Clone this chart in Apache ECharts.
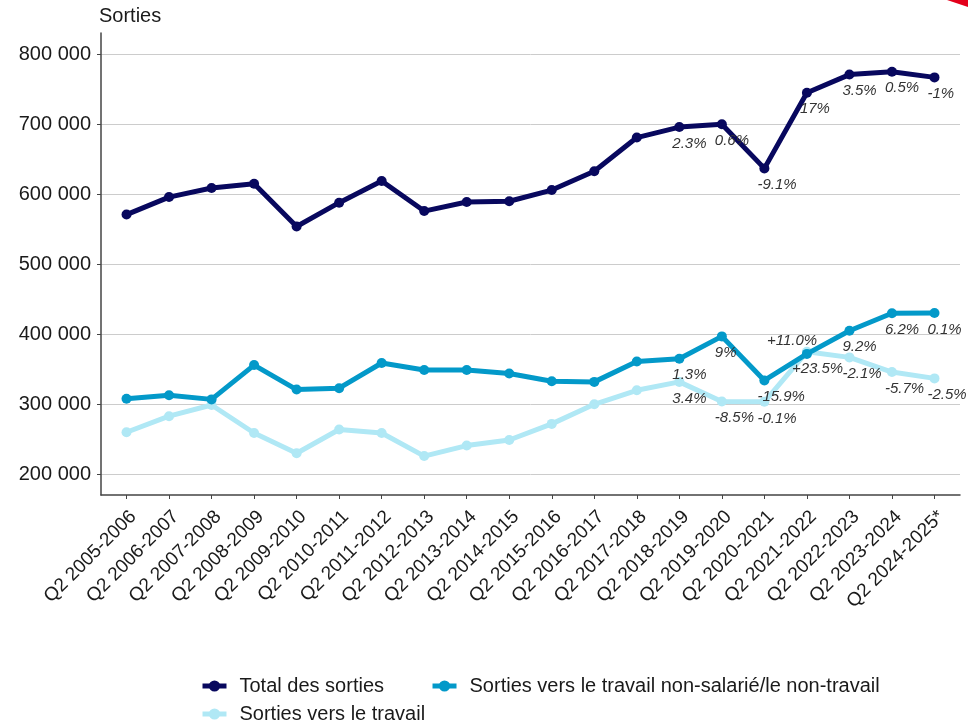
<!DOCTYPE html>
<html>
<head>
<meta charset="utf-8">
<script src="https://cdn.jsdelivr.net/npm/echarts@6/dist/echarts.min.js"></script>
<style>
html,body{margin:0;padding:0;background:#ffffff;}
#chart{width:968px;height:726px;}
</style>
</head>
<body>
<div id="chart"></div>
<script>
// ---- Data ----
const categories = ['Q2 2005-2006','Q2 2006-2007','Q2 2007-2008','Q2 2008-2009','Q2 2009-2010','Q2 2010-2011','Q2 2011-2012','Q2 2012-2013','Q2 2013-2014','Q2 2014-2015','Q2 2015-2016','Q2 2016-2017','Q2 2017-2018','Q2 2018-2019','Q2 2019-2020','Q2 2020-2021','Q2 2021-2022','Q2 2022-2023','Q2 2023-2024','Q2 2024-2025*'];
const totalSorties = [571000,596000,609000,615000,554000,588000,619000,576000,589000,590000,606000,633000,681000,696000,700000,637000,745000,771000,775000,767000];
const sortiesNonSalarie = [308000,313000,307000,356000,321000,323000,359000,349000,349000,344000,333000,332000,361000,365000,397000,334000,372000,405000,430000,430500];
const sortiesTravail = [260000,283000,299000,259000,230000,264000,259000,226000,241000,249000,272000,300000,320000,332000,304000,303500,375000,367000,346000,337000];
const totalPct = [null,null,null,null,null,null,null,null,null,null,null,null,null,'2.3%','0.6%','-9.1%','17%','3.5%','0.5%','-1%'];
const nonSalariePct = [null,null,null,null,null,null,null,null,null,null,null,null,null,'1.3%','9%','-15.9%','+11.0%','9.2%','6.2%','0.1%'];
const travailPct = [null,null,null,null,null,null,null,null,null,null,null,null,null,'3.4%','-8.5%','-0.1%','+23.5%','-2.1%','-5.7%','-2.5%'];
const yTicks = [200000,300000,400000,500000,600000,700000,800000];
const seriesNames = ['Total des sorties','Sorties vers le travail non-salarié/le non-travail','Sorties vers le travail'];

// ---- Styling ----
const FONT = '"Liberation Sans", Arial, sans-serif';
const COLORS = { total:'#08085e', nonsal:'#0399c9', travail:'#b0e8f5' };
const labelNudge = { 'nonsal-16':[-40,-30], 'travail-16':[-15,1] };
const xIdx = categories.map((_, i) => i);

function fmtThousands(v){ return String(v).replace(/\B(?=(\d{3})+(?!\d))/g, ' '); }

function buildData(values, pct, key){
  return values.map((v, i) => {
    const item = { value:[i, v] };
    if (pct[i]) {
      item.label = { show:true, formatter: pct[i] };
      const n = labelNudge[key + '-' + i];
      if (n) item.label.offset = n;
    }
    return item;
  });
}

function lineSeries(name, values, pct, key, color, z){
  return {
    name: name,
    type: 'line',
    z: z,
    data: buildData(values, pct, key),
    symbol: 'circle',
    symbolSize: 10,
    lineStyle: { color: color, width: 5 },
    itemStyle: { color: color },
    emphasis: { disabled: true },
    animation: false,
    label: {
      show: false,
      position: 'bottom',
      distance: 4,
      align: 'left',
      offset: [-7, 0],
      fontFamily: FONT,
      fontStyle: 'italic',
      fontSize: 15,
      color: '#333333'
    }
  };
}

const chart = echarts.init(document.getElementById('chart'), null, { renderer:'canvas' });

const legendCommon = {
  left: 200,
  itemWidth: 24,
  itemHeight: 14,
  padding: 0,
  selectedMode: false,
  lineStyle: { width: 5 },
  textStyle: { fontFamily: FONT, fontSize: 20, color: '#1a1a1a', padding: [0,0,0,8] }
};

const option = {
  backgroundColor: '#ffffff',
  animation: false,
  title: {
    text: 'Sorties',
    left: 99,
    top: 6,
    padding: 0,
    textStyle: { fontFamily: FONT, fontSize: 20, fontWeight: 'normal', color: '#1a1a1a' }
  },
  grid: { left: 101, right: 8, top: 33, bottom: 231, containLabel: false },
  xAxis: {
    type: 'value',
    min: -0.6,
    max: categories.length - 1 + 0.6,
    axisLine: { show: true, onZero: false, lineStyle: { color: '#444', width: 1.5 } },
    axisTick: { show: true, length: 4, customValues: xIdx, lineStyle: { color: '#444', width: 1 } },
    axisLabel: {
      customValues: xIdx,
      formatter: v => categories[Math.round(v)] || '',
      rotate: 45,
      margin: 12,
      verticalAlign: 'top',
      fontFamily: FONT,
      fontSize: 19,
      color: '#1a1a1a'
    },
    splitLine: { show: false }
  },
  yAxis: {
    type: 'value',
    min: 170400,
    max: 830400,
    axisLine: { show: true, onZero: false, lineStyle: { color: '#444', width: 1.5 } },
    axisTick: { show: true, length: 4, customValues: yTicks, lineStyle: { color: '#444', width: 1 } },
    axisLabel: {
      customValues: yTicks,
      formatter: v => fmtThousands(v),
      margin: 10,
      fontFamily: FONT,
      fontSize: 20,
      color: '#1a1a1a'
    },
    splitLine: { show: true, customValues: yTicks, lineStyle: { color: '#cccccc', width: 1 } }
  },
  legend: [
    Object.assign({}, legendCommon, { data: [seriesNames[0], seriesNames[1]], top: 676, itemGap: 46 }),
    Object.assign({}, legendCommon, { data: [seriesNames[2]], top: 704 })
  ],
  series: [
    lineSeries(seriesNames[2], sortiesTravail, travailPct, 'travail', COLORS.travail, 2),
    lineSeries(seriesNames[1], sortiesNonSalarie, nonSalariePct, 'nonsal', COLORS.nonsal, 3),
    lineSeries(seriesNames[0], totalSorties, totalPct, 'total', COLORS.total, 4)
  ],
  graphic: [
    { type: 'polygon', silent: true, shape: { points: [[947,0],[968,0],[968,7]] }, style: { fill: '#e3001b' } }
  ]
};

chart.setOption(option);
</script>
</body>
</html>
